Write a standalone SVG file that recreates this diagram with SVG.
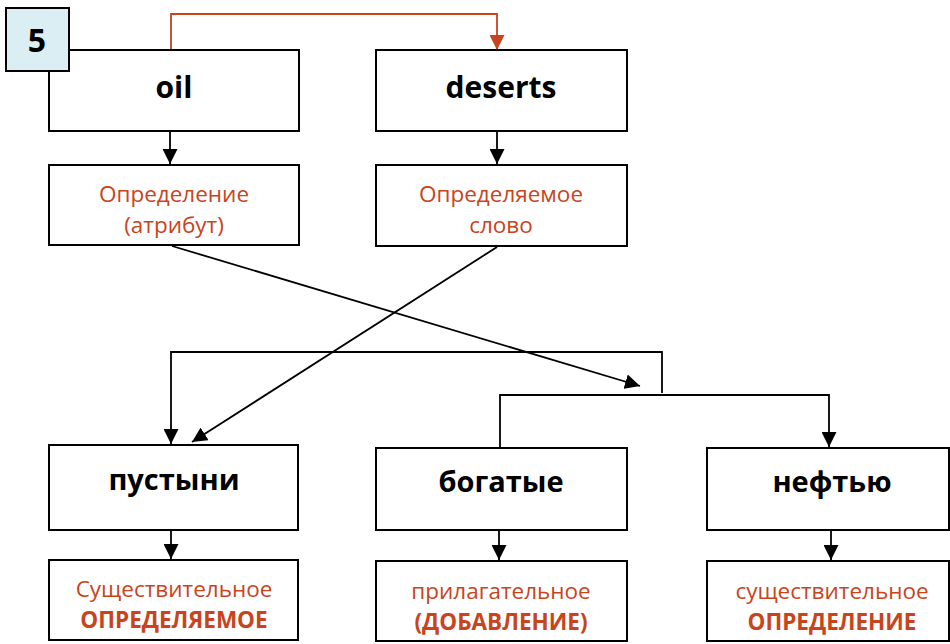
<svg xmlns="http://www.w3.org/2000/svg" width="950" height="644" viewBox="0 0 950 644">
<style>
.box{fill:#fff;stroke:#000;stroke-width:2}
.num{fill:#dbeef4;stroke:#000;stroke-width:2}
.w{font-family:"Open Sans","Noto Sans",sans-serif;font-weight:bold;font-size:29px;fill:#000;text-anchor:middle}
.r{font-family:"Open Sans","Noto Sans",sans-serif;font-size:22.5px;fill:#c8441c;text-anchor:middle}
.rb{font-family:"Open Sans","Noto Sans",sans-serif;font-size:22.5px;font-weight:bold;fill:#c8441c;text-anchor:middle}
.c{fill:none;stroke:#000;stroke-width:1.8}
.cr{fill:none;stroke:#c8441c;stroke-width:1.8}
</style>
<defs>
<marker id="ab" markerWidth="15" markerHeight="15" refX="15" refY="7.5" orient="auto" markerUnits="userSpaceOnUse"><path d="M0,0 L15,7.5 L0,15 Z" fill="#000"/></marker>
<marker id="ar" markerWidth="15" markerHeight="15" refX="15" refY="7.5" orient="auto" markerUnits="userSpaceOnUse"><path d="M0,0 L15,7.5 L0,15 Z" fill="#c8441c"/></marker>
</defs>
<g id="connectors">
<path class="cr" d="M171,50 V14 H497 V50" marker-end="url(#ar)"/>
<path class="c" d="M170,131 V164" marker-end="url(#ab)"/>
<path class="c" d="M497,131 V164" marker-end="url(#ab)"/>
<path class="c" d="M172,246 L640,386" marker-end="url(#ab)"/>
<path class="c" d="M497,247 L192,442" marker-end="url(#ab)"/>
<path class="c" d="M662,393 V352 H171 V444" marker-end="url(#ab)"/>
<path class="c" d="M500,448 V395 H829 V447" marker-end="url(#ab)"/>
<path class="c" d="M171,530 V559" marker-end="url(#ab)"/>
<path class="c" d="M499,530 V560" marker-end="url(#ab)"/>
<path class="c" d="M831,530 V560" marker-end="url(#ab)"/>
</g>
<g id="oil"><rect class="box" x="49" y="50" width="250" height="81"/><text class="w" x="174" y="98" style="font-size:30px">oil</text></g>
<g id="deserts"><rect class="box" x="376" y="50" width="251" height="81"/><text class="w" x="501" y="98" style="font-size:30px">deserts</text></g>
<g id="num5"><rect class="num" x="6" y="8" width="63" height="63"/><text class="w" x="37" y="52" style="font-size:32px">5</text></g>
<g id="opredelenie"><rect class="box" x="49" y="165" width="250" height="80"/><text class="r" x="174" y="202">Определение</text><text class="r" x="174" y="233">(атрибут)</text></g>
<g id="opredelyaemoe"><rect class="box" x="376" y="165" width="251" height="81"/><text class="r" x="501" y="202">Определяемое</text><text class="r" x="501" y="233">слово</text></g>
<g id="pustyni"><rect class="box" x="49" y="445" width="249" height="85"/><text class="w" x="174" y="490">пустыни</text></g>
<g id="bogatye"><rect class="box" x="376" y="448" width="251" height="82"/><text class="w" x="501" y="492">богатые</text></g>
<g id="neftyu"><rect class="box" x="707" y="448" width="242" height="82"/><text class="w" x="832" y="492">нефтью</text></g>
<g id="sush1"><rect class="box" x="49" y="560" width="249" height="80"/><text class="r" x="174" y="597">Существительное</text><text class="rb" x="174" y="628">ОПРЕДЕЛЯЕМОЕ</text></g>
<g id="pril"><rect class="box" x="376" y="561" width="251" height="80"/><text class="r" x="501" y="599">прилагательное</text><text class="rb" x="501" y="630">(ДОБАВЛЕНИЕ)</text></g>
<g id="sush2"><rect class="box" x="707" y="561" width="242" height="80"/><text class="r" x="832" y="599">существительное</text><text class="rb" x="832" y="630">ОПРЕДЕЛЕНИЕ</text></g>
</svg>
